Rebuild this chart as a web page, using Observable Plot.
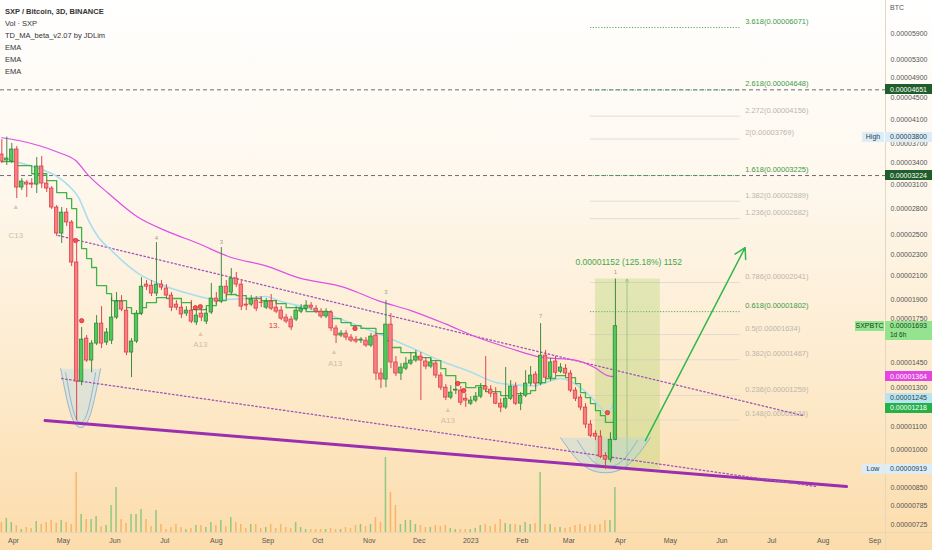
<!DOCTYPE html>
<html><head><meta charset="utf-8">
<script src="https://cdn.jsdelivr.net/npm/d3@7"></script>
<script src="https://cdn.jsdelivr.net/npm/@observablehq/plot@0.6"></script>
<style>
body{margin:0;}
#wrap{position:relative;width:932px;height:550px;overflow:hidden;
 background:linear-gradient(to bottom,#ffffff 0%,#fef7ec 35%,#fdeacb 70%,#fcdcab 100%);
 font-family:"Liberation Sans",Arial,sans-serif;}
#wrap svg{position:absolute;left:0;top:0;}
.legend{position:absolute;left:5px;top:6px;font-size:7.5px;line-height:12px;color:#333;}
.legend b{font-weight:bold;}
.pbox{position:absolute;left:885px;width:47px;font-size:7px;line-height:9px;padding-top:0.5px;padding-left:5px;box-sizing:border-box;white-space:nowrap;overflow:hidden;}
.sbox{position:absolute;font-size:7px;line-height:10px;height:10px;text-align:center;white-space:nowrap;}
.hline{position:absolute;left:0;top:532px;width:932px;height:1px;background:#e6d6bb;}
.vline{position:absolute;left:885px;top:0;width:1px;height:550px;background:#e3d7c4;}
</style></head>
<body><div id="wrap"></div>
<script>
// ---------- candle data (prices in 1e-8 BTC) ----------
const firstCandle = Date.UTC(2022, 2, 25);   // 3D candles
const opens = [3527,3438,3423,3604,3063,3129,3116,3102,3351,3116,
 3050,2812,2516,2752,2638,2223,1336,1606,1462,1572,
 1712,1579,1592,1757,1881,1810,1513,1586,1787,2023,
 2014,1947,2023,1989,1930,1857,1833,1787,1810,1720,
 1787,1727,1795,1906,1881,2005,1955,2076,2023,1857,
 1857,1889,1873,1833,1881,1833,1810,1757,1742,1742,
 1802,1825,1849,1825,1802,1765,1795,1677,1627,1641,
 1613,1599,1592,1592,1559,1627,1383,1348,1705,1450,
 1383,1412,1443,1462,1487,1456,1425,1443,1371,1302,
 1248,1286,1286,1242,1216,1232,1253,1308,1291,1269,
 1216,1196,1242,1308,1216,1258,1325,1377,1325,1493,
 1359,1456,1394,1412,1383,1286,1248,1196,1112,1069,
 1056,973,957,1042];
const highs = [3760,3800,3698,3650,3183,3156,3183,3482,3497,3156,
 3076,2836,2812,2800,2660,2411,1684,1627,1592,1772,
 1841,1677,1914,1955,1930,1833,1606,1810,2084,2058,
 2058,2421,2058,2023,1955,1889,1865,1841,1889,1841,
 1825,1825,2032,1955,2370,2058,2166,2130,2058,1906,
 1930,1922,1922,1906,1939,1889,1841,1780,1765,1841,
 1857,1889,1873,1849,1825,1825,1810,1698,1662,1662,
 1634,1620,1613,1613,1641,1641,1412,1889,1787,1487,
 1443,1481,1513,1526,1513,1481,1475,1462,1388,1319,
 1313,1330,1308,1269,1253,1275,1325,1487,1313,1302,
 1242,1419,1342,1330,1275,1400,1425,1394,1712,1526,
 1475,1487,1443,1437,1400,1302,1264,1216,1131,1083,
 1083,986,1074,2071];
const lows = [3394,3365,3394,2922,3024,2935,3050,2986,3050,2998,
 2788,2484,2411,2593,2185,1131,1313,1450,1388,1559,
 1539,1559,1566,1742,1802,1493,1359,1572,1772,1972,
 1922,1922,1972,1906,1802,1810,1749,1765,1712,1698,
 1727,1705,1780,1857,1865,1914,1930,1997,1810,1810,
 1841,1802,1833,1818,1810,1787,1734,1712,1662,1727,
 1787,1810,1810,1787,1749,1749,1655,1572,1613,1592,
 1579,1572,1572,1546,1546,1342,1297,1302,1412,1365,
 1342,1400,1431,1450,1232,1406,1412,1354,1286,1232,
 1237,1264,1206,1196,1206,1221,1242,1275,1248,1211,
 1170,1186,1232,1206,1180,1248,1308,1302,1313,1348,
 1336,1371,1383,1365,1275,1227,1180,1093,1051,1038,
 961,919,945,1038];
const closes = [3423,3468,3604,3063,3143,3102,3102,3351,3116,3050,
 2812,2516,2752,2638,2223,1336,1599,1462,1572,1712,
 1572,1648,1757,1881,1818,1513,1586,1787,2005,2005,
 1947,2023,1997,1930,1833,1833,1780,1810,1727,1772,
 1757,1787,1906,1881,2005,1947,2076,2023,1841,1849,
 1897,1825,1870,1881,1825,1802,1749,1727,1684,1810,
 1825,1849,1833,1802,1765,1802,1677,1627,1641,1613,
 1592,1586,1599,1559,1620,1383,1348,1705,1450,1383,
 1419,1443,1462,1487,1462,1425,1450,1371,1302,1248,
 1275,1291,1221,1232,1232,1253,1302,1291,1269,1216,
 1196,1242,1308,1216,1258,1325,1371,1325,1493,1359,
 1450,1388,1419,1383,1286,1242,1196,1112,1060,1056,
 969,957,1042,1693];
// volume, thousand SXP
const volumes = [1000,1400,1000,700,300,500,400,1100,800,1000,
 1200,900,1200,1000,800,6000,1800,1300,1300,1600,
 600,700,2700,4500,1300,900,1800,1800,2300,1300,
 600,2200,800,300,500,800,500,300,400,700,
 700,500,1000,700,1200,600,1500,1000,800,400,
 800,800,400,500,800,400,800,500,400,1000,
 500,300,300,300,300,300,400,300,300,500,
 400,700,800,600,800,1500,1000,7500,4000,2700,
 800,1200,1200,800,700,500,500,700,600,700,
 400,300,300,300,300,400,700,800,600,800,
 1300,900,800,800,700,1000,800,900,6000,800,
 800,500,500,400,500,700,800,600,800,700,
 800,1200,1200,4500];

// ---------- indicator lines (bar index, value) ----------
const emaSlowBars = [0,3.4,7.4,11.4,14.8,17.4,21.4,27.4,32.8,39.4,46,52.8,59.4,68.8,75.4,82,88.8,95.4,102,107.4,115.4,118.8,121.4,123];
const emaSlow     = [3790,3745,3666,3558,3438,3224,2986,2694,2548,2411,2271,2194,2084,1997,1889,1810,1712,1613,1539,1487,1462,1419,1371,1364];
const emaFastBars = [3.4,7.4,10.8,13.4,15.4,17.4,19.4,22,24.8,27.4,31.4,37.4,43.4,49.4,52.8,56,62,68.8,75.4,82,88.8,93.4,100,106.8,112,116,118.8,121.4,123];
const emaFast     = [3409,3323,3224,3089,2935,2660,2474,2340,2213,2120,2032,1947,1897,1906,1922,1881,1825,1734,1641,1546,1450,1400,1325,1313,1354,1302,1232,1170,1245];
const tdBars = [0,3,6,9,11,13,14,15,16,17,18,19,21,22,25,26,28,29,31,33,36,38,41,43,45,47,49,52,55,57,60,61,66,68,70,72,75,77,78,80,83,86,88,89,91,93,95,97,100,103,106,107,109,111,113,115,116,117,118,119,120,121,123];
const tdMA   = [3423,3365,3249,3156,2998,2922,2800,2582,2360,2261,2176,2014,1947,1889,1833,1787,1833,1873,1914,1906,1873,1818,1849,1889,1939,1930,1906,1889,1865,1833,1825,1802,1749,1720,1698,1677,1641,1592,1546,1513,1481,1462,1412,1371,1330,1302,1313,1280,1258,1269,1286,1330,1354,1371,1359,1325,1275,1248,1216,1180,1155,1122,1218];

// ---------- fibonacci levels ----------
const fibRatios = ["3.618","2.618","2.272","2","1.618","1.382","1.236","0.786","0.618","0.5","0.382","0.236","0.148"];
const fibPrices = [6071,4648,4156,3769,3225,2889,2682,2041,1802,1634,1467,1259,1134];
const fibKey    = [true,true,false,false,true,false,false,false,true,false,false,false,false];
const fibSpan = ["2023-03-14","2023-06-12"];

// ---------- drawings ----------
const alertLevels = [4651, 3224];
const upperChannel = [["2022-04-28",2495],["2023-07-20",1155]];
const lowerChannel = [["2022-04-30",1354],["2023-07-28",853]];
const supportLine  = [["2022-04-20",1131],["2023-08-15",853]];
const measureBox = {from:"2023-03-17", to:"2023-04-25", low:919, high:2071, line:"2023-04-05"};
const measureText = {date:"2023-04-06", price:2223, text:"0.00001152 (125.18%) 1152"};
const targetArrow = [["2023-04-16",1038],["2023-06-15",2370]];
const bowlLeftOuter  = {bars:[11.8,13.8,15.8,17.8,19.8], vals:[1412,1165,1098,1165,1412]};
const bowlLeftInner  = {bars:[12.8,14.3,15.8,17.3,18.8], vals:[1388,1183,1122,1183,1388]};
const bowlRightOuter = {bars:[112,116.4,121,125.6,130], vals:[1051,937,905,937,1051]};
const bowlRightInner = {bars:[115.4,118.4,121.4,124.4,127.4], vals:[1038,953,929,953,1038]};
const tdTags = [[2.8,2495,"C13","#cdbfa6"],[39.8,1566,"A13","#cdbfa6"],[66.8,1443,"A13","#cdbfa6"],[89.4,1131,"A13","#cdbfa6"],[54.6,1698,"13.","#e53935"]];
const tdCounts = [[123,2130,"1"],[108,1765,"7"],[77,1960,"3"],[31,2470,"4"],[44,2430,"3"]];
const tdTriangles = [[2.8,2824],[39.8,1641],[66.6,1519],[89.4,1186]];
const redDots = [[14.8,2442],[16,1734],[38.8,1833],[39.8,1841],[70.8,1677],[91.4,1325],[92.6,1286],[121.4,1170]];

const yTicks = [5900,5300,4900,4500,4100,3700,3400,3100,2800,2500,2300,2100,1900,1750,1450,1300,1100,1000,850,785,725];

// ---------- helpers ----------
const DAY = 864e5;
const barDate = b => new Date(firstCandle + b * 3 * DAY);
const D = s => new Date(s + "T00:00:00Z");
const fmt = v => (v / 1e8).toFixed(8);
const candles = opens.map((o, i) => ({date: barDate(i), open: o, high: highs[i], low: lows[i], close: closes[i], volume: volumes[i]}));
const isUp = d => d.close >= d.open;
const UP_FILL = "#4fc957", UP_STROKE = "#2b7f33", DN_FILL = "#f57f84", DN_STROKE = "#d8343c";
const toPts = (bars, vals) => bars.map((b, i) => ({date: barDate(b), v: vals[i]}));
const seg = a => a.map(([d, v]) => ({date: D(d), v}));
const xDomain = [new Date("2022-03-24T05:00:00Z"), new Date("2023-09-07T10:00:00Z")];
const monthTicks = d3.utcMonths(new Date(Date.UTC(2022, 3, 1)), new Date(Date.UTC(2023, 8, 2)));
const fib = fibRatios.map((r, i) => ({r, p: fibPrices[i], key: fibKey[i]}));
const fibKeyLevels = fib.filter(d => d.key), fibOther = fib.filter(d => !d.key);
const font = "'Liberation Sans', Arial, sans-serif";

const wrap = document.getElementById("wrap");

// ---------- volume pane (beneath) ----------
const vol = Plot.plot({
  width: 932, height: 532, marginLeft: 0, marginRight: 47, marginTop: 0, marginBottom: 0,
  style: {background: "transparent"},
  x: {type: "utc", domain: xDomain, axis: null},
  y: {domain: [0, 53200], axis: null},
  marks: [
    Plot.rect(candles, {x1: d => new Date(+d.date - 0.45 * DAY), x2: d => new Date(+d.date + 0.45 * DAY),
      y1: 0, y2: "volume", fill: d => isUp(d) ? "#6cc06f" : "#f5a74e", fillOpacity: 0.75})
  ]
});
wrap.appendChild(vol);

// ---------- main chart ----------
const chart = Plot.plot({
  width: 932, height: 550, marginLeft: 0, marginRight: 47, marginTop: 0, marginBottom: 18,
  style: {background: "transparent", color: "#555", fontFamily: font},
  x: {type: "utc", domain: xDomain},
  y: {type: "log", domain: [701, 6814]},
  marks: [
    Plot.axisY({anchor: "right", ticks: yTicks, tickFormat: fmt, tickSize: 0, tickPadding: 5, fontSize: 7, label: null}),
    Plot.axisX({ticks: monthTicks, tickFormat: d => d.getUTCMonth() === 0 ? String(d.getUTCFullYear()) : d3.utcFormat("%b")(d),
      tickSize: 0, tickPadding: 6, fontSize: 7, label: null}),
    // alert lines
    Plot.ruleY(alertLevels, {stroke: "#6d6d6d", strokeDasharray: "4,3", strokeWidth: 1}),
    // fibonacci
    Plot.ruleY(fibOther, {y: "p", x1: D(fibSpan[0]), x2: D(fibSpan[1]), stroke: "#dad6cf", strokeWidth: 0.8}),
    Plot.ruleY(fibKeyLevels, {y: "p", x1: D(fibSpan[0]), x2: D(fibSpan[1]), stroke: "#4fae5b", strokeDasharray: "1.2,1.6", strokeWidth: 1}),
    Plot.text(fib, {x: D(fibSpan[1]), y: "p", text: d => `${d.r}(${fmt(d.p)})`, textAnchor: "start", dx: 5, dy: -6,
      fontSize: 7.5, fill: d => d.key ? "#3e9a49" : "#bcb6ac"}),
    // measure box
    Plot.rect([measureBox], {x1: d => D(d.from), x2: d => D(d.to), y1: "low", y2: "high", fill: "#9ccc50", fillOpacity: 0.28}),
    Plot.arrow([measureBox], {x1: d => D(d.line), x2: d => D(d.line), y1: "low", y2: "high", stroke: "#8dbf7c", strokeWidth: 0.8, headLength: 5}),
    // bowls
    ...[bowlLeftOuter, bowlRightOuter].map(b => Plot.line(toPts(b.bars, b.vals), {x: "date", y: "v", curve: "natural",
      fill: "#a6d6ec", fillOpacity: 0.35, stroke: "#7aa9d6", strokeWidth: 0.8})),
    ...[bowlLeftInner, bowlRightInner].map(b => Plot.line(toPts(b.bars, b.vals), {x: "date", y: "v", curve: "natural",
      stroke: "#7aa9d6", strokeWidth: 0.8})),
    // trend lines
    Plot.line(seg(supportLine), {x: "date", y: "v", stroke: "#9b2fb0", strokeWidth: 3}),
    Plot.line(seg(upperChannel), {x: "date", y: "v", stroke: "#9d55b8", strokeWidth: 1.3, strokeDasharray: "1.5,2.5"}),
    Plot.line(seg(lowerChannel), {x: "date", y: "v", stroke: "#9d55b8", strokeWidth: 1.3, strokeDasharray: "1.5,2.5"}),
    // indicators
    Plot.line(toPts(emaSlowBars, emaSlow), {x: "date", y: "v", stroke: "#de4fe6", strokeWidth: 1.2, curve: "monotone-x"}),
    Plot.line(toPts(emaFastBars, emaFast), {x: "date", y: "v", stroke: "#a7def0", strokeWidth: 1.6, curve: "monotone-x"}),
    Plot.line(toPts(tdBars, tdMA), {x: "date", y: "v", stroke: "#3fb34a", strokeWidth: 1.3, curve: "step-after"}),
    // candles
    Plot.ruleX(candles, {x: "date", y1: "low", y2: "high", stroke: d => isUp(d) ? UP_STROKE : DN_STROKE, strokeWidth: 0.9}),
    Plot.rect(candles, {x1: d => new Date(+d.date - 1.05 * DAY), x2: d => new Date(+d.date + 1.05 * DAY),
      y1: d => Math.min(d.open, d.close), y2: d => Math.max(d.open, d.close),
      fill: d => isUp(d) ? UP_FILL : DN_FILL, stroke: d => isUp(d) ? UP_STROKE : DN_STROKE, strokeWidth: 0.7}),
    // TD marks
    Plot.text(tdTags, {x: d => barDate(d[0]), y: d => d[1], text: d => d[2], fill: d => d[3], fontSize: 8}),
    Plot.text(tdCounts, {x: d => barDate(d[0]), y: d => d[1], text: d => d[2], fill: "#a89c8a", fontSize: 6}),
    Plot.text(tdTriangles, {x: d => barDate(d[0]), y: d => d[1], text: () => "▲", fill: "#d9c9a8", fontSize: 7}),
    Plot.dot(redDots, {x: d => barDate(d[0]), y: d => d[1], r: 2.2, fill: "#ff4d55", stroke: "#b71c1c", strokeWidth: 0.6}),
    // target arrow & measure label
    Plot.arrow([targetArrow], {x1: d => D(d[0][0]), y1: d => d[0][1], x2: d => D(d[1][0]), y2: d => d[1][1],
      stroke: "#2fb84e", strokeWidth: 1.5, headLength: 12}),
    Plot.text([measureText], {x: d => D(d.date), y: "price", text: "text", fill: "#44a84e", fontSize: 8.5})
  ]
});
wrap.appendChild(chart);

// ---------- overlays: legend, axis boxes ----------
const lines1 = document.createElement("div"); lines1.className = "hline"; wrap.appendChild(lines1);
const lines2 = document.createElement("div"); lines2.className = "vline"; wrap.appendChild(lines2);

const legendLines = ["SXP / Bitcoin, 3D, BINANCE", "Vol · SXP", "TD_MA_beta_v2.07 by JDLim", "EMA", "EMA", "EMA"];
const leg = document.createElement("div"); leg.className = "legend";
leg.innerHTML = legendLines.map((t, i) => i === 0 ? `<b>${t}</b>` : t).join("<br>");
wrap.appendChild(leg);

const btc = document.createElement("div");
btc.style.cssText = "position:absolute;left:890px;top:4px;font-size:7px;color:#555;";
btc.textContent = "BTC"; wrap.appendChild(btc);

const ys = chart.scale("y");
const boxValues = [4651, 3800, 3224, 1693, 1364, 1245, 1218, 919];
const boxBg     = ["#1f5e2b", "#dcedf8", "#1f5e2b", "#93e38f", "#e245e0", "#b9e5f0", "#26b04a", "#dcedf8"];
const boxFg     = ["#fff", "#2d3e50", "#fff", "#14461a", "#fff", "#2d3e50", "#fff", "#2d3e50"];
const boxShift  = [0, 0, 0, 0, 0, 0, 5, 0];
const boxExtra  = [null, null, null, "1d 6h", null, null, null, null];
const sideText  = [null, "High", null, "SXPBTC", null, null, null, "Low"];
boxValues.forEach((v, i) => {
  const yc = ys.apply(v) + boxShift[i];
  const h = boxExtra[i] ? 19 : 10;
  const el = document.createElement("div"); el.className = "pbox";
  el.style.top = (yc - 5) + "px"; el.style.height = h + "px";
  el.style.background = boxBg[i]; el.style.color = boxFg[i];
  el.innerHTML = fmt(v) + (boxExtra[i] ? `<br><span style="font-size:6.5px">${boxExtra[i]}</span>` : "");
  wrap.appendChild(el);
  if (sideText[i]) {
    const s = document.createElement("div"); s.className = "sbox";
    const w = sideText[i].length > 4 ? 29 : 22;
    s.style.left = (884 - w) + "px"; s.style.width = w + "px"; s.style.top = (yc - 5) + "px";
    s.style.background = boxBg[i]; s.style.color = boxFg[i];
    s.textContent = sideText[i];
    wrap.appendChild(s);
  }
});
</script>
</body></html>
